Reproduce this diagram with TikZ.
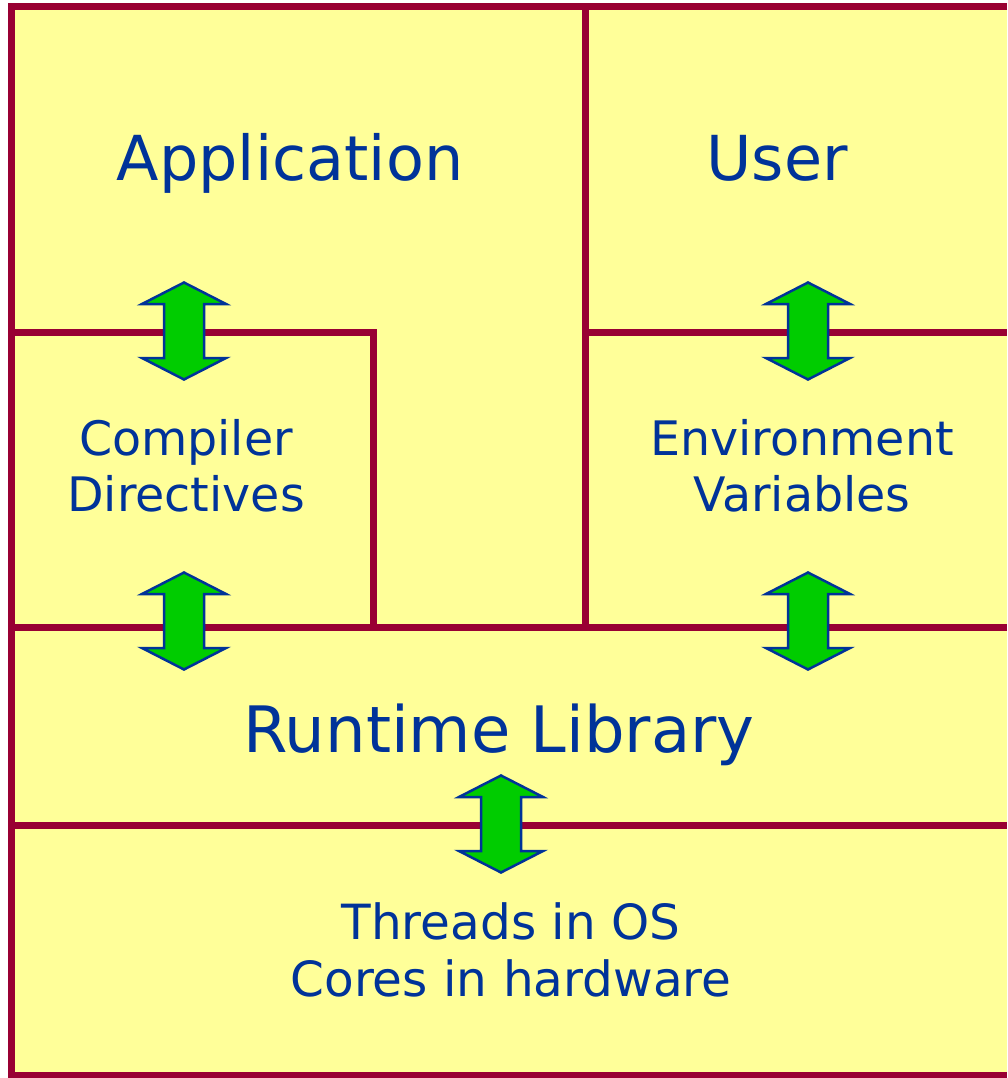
\documentclass[tikz,border=0pt]{standalone}
\usepackage{fontspec}
\setmainfont{DejaVu Sans}
\definecolor{boxfill}{RGB}{255,255,153}
\definecolor{wall}{RGB}{153,0,51}
\definecolor{txt}{RGB}{0,51,153}
\definecolor{arrfill}{RGB}{0,204,0}
\tikzset{
  wallline/.style={draw=wall,line width=7pt},
  bigtxt/.style={text=txt,inner sep=0pt,font=\fontsize{62}{70}\selectfont},
  smalltxt/.style={text=txt,inner sep=0pt,align=center,font=\fontsize{47.5}{56}\selectfont},
  pics/dblarrow/.style={code={
    \draw[fill=arrfill,draw=txt,line width=2.5pt,line join=miter]
      (0,-48.5)--(42,-27)--(20,-27)--(20,27)--(42,27)--(0,48.5)
      --(-42,27)--(-20,27)--(-20,-27)--(-42,-27)--cycle;
  }}
}
\begin{document}
\begin{tikzpicture}[x=1pt,y=-1pt]
\useasboundingbox (0,0) rectangle (1007,1078);
\fill[white] (0,0) rectangle (1007,1078);
\fill[boxfill] (11,7) rectangle (1007,1075);
% walls
\draw[wallline,line join=miter] (1007,7)--(11,7)--(11,1075)--(1007,1075);
\draw[wallline] (585,7)--(585,627);
\draw[wallline,line join=miter] (11,332)--(373,332)--(373,627);
\draw[wallline] (585,332)--(1007,332);
\draw[wallline] (11,627)--(1007,627);
\draw[wallline] (11,825)--(1007,825);
% labels
\node[bigtxt,anchor=base] (app) at (290,181) {Application};
\node[bigtxt,anchor=base] (user) at (777,181) {User};
\node[bigtxt,anchor=base,font=\fontsize{64}{72}\selectfont] (rtl) at (499,752) {Runtime Library};
\node[smalltxt] (comp) at (186,466) {Compiler\\Directives};
\node[smalltxt] (env) at (802,466) {Environment\\Variables};
\node[smalltxt,font=\fontsize{48.5}{57}\selectfont] (os) at (511,950) {Threads in OS\\Cores in hardware};
% arrows
\pic at (184,331) {dblarrow};
\pic at (184,621) {dblarrow};
\pic at (808,331) {dblarrow};
\pic at (808,621) {dblarrow};
\pic at (501,824) {dblarrow};
\end{tikzpicture}
\end{document}
